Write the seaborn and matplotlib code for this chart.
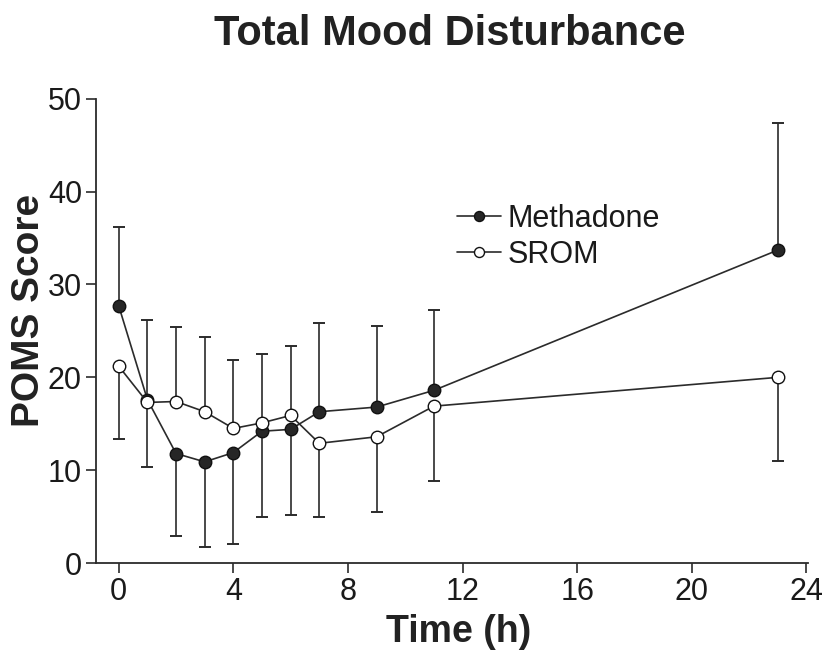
import numpy as np
import pandas as pd
import seaborn as sns
import matplotlib
matplotlib.use("Agg")
import matplotlib.pyplot as plt
from matplotlib import font_manager

# ---- data ----
time_h = [0, 1, 2, 3, 4, 5, 6, 7, 9, 11, 23]
methadone_mean = [27.7, 17.6, 11.8, 10.9, 11.9, 14.2, 14.4, 16.3, 16.8, 18.6, 33.7]
methadone_err = [8.5, 8.6, 8.9, 9.2, 9.8, 9.2, 9.2, 9.6, 8.7, 8.6, 13.7]
srom_mean = [21.2, 17.3, 17.4, 16.3, 14.5, 15.1, 15.9, 12.9, 13.6, 16.9, 20.0]
srom_err = [7.8, 6.9, 8.0, 8.0, 7.4, 7.4, 7.5, 7.9, 8.1, 8.1, 9.0]
x_ticks = [0, 4, 8, 12, 16, 20, 24]
y_ticks = [0, 10, 20, 30, 40, 50]

sns.set_theme(style="ticks")
names = {f.name for f in font_manager.fontManager.ttflist}
base = "Liberation Sans" if "Liberation Sans" in names else "DejaVu Sans"
plt.rcParams["font.family"] = [base, "DejaVu Sans"]

ink = "#2b2b2b"
fig = plt.figure(figsize=(8.26, 6.54), dpi=100)
ax = fig.add_axes([0.116, 0.139, 0.862, 0.71])

df_m = pd.DataFrame({"t": time_h, "v": methadone_mean, "e": methadone_err})
df_s = pd.DataFrame({"t": time_h, "v": srom_mean, "e": srom_err})

# error bars: the higher series gets the upward bar, the lower one the downward bar
m = np.array(methadone_mean); s = np.array(srom_mean)
t = np.array(time_h)
me = np.array(methadone_err); se = np.array(srom_err)
m_up = m >= s
m_end = np.where(m_up, m + me, m - me)
s_end = np.where(m_up, s - se, s + se)
for y0, y1 in [(m, m_end), (s, s_end)]:
    ax.vlines(t, y0, y1, color=ink, lw=1.2, zorder=1)
    ax.plot(t, y1, marker="_", markersize=9, markeredgewidth=1.4,
            linestyle="none", color=ink, zorder=1)

sns.lineplot(data=df_m, x="t", y="v", ax=ax, color=ink, lw=1.2, marker="o",
             markersize=9, markerfacecolor="#262626", markeredgecolor="#111111",
             markeredgewidth=1.0, label="Methadone", zorder=3)
sns.lineplot(data=df_s, x="t", y="v", ax=ax, color=ink, lw=1.2, marker="o",
             markersize=9, markerfacecolor="white", markeredgecolor="#111111",
             markeredgewidth=1.0, label="SROM", zorder=3)

ax.set_xlim(-0.8, 24.05)
ax.set_ylim(0, 50)
ax.set_xticks(x_ticks)
ax.set_yticks(y_ticks)
ax.tick_params(axis="both", direction="out", length=7, width=1.2, colors=ink,
               labelsize=22, pad=3)
for lab in ax.get_xticklabels() + ax.get_yticklabels():
    lab.set_color("#1a1a1a")
sns.despine(ax=ax)
for sp in ["left", "bottom"]:
    ax.spines[sp].set_linewidth(1.3)
    ax.spines[sp].set_color(ink)

ax.set_xlabel("")
ax.set_ylabel("")
fig.text(459 / 826, 1 - 632 / 654, "Time (h)", ha="center", va="center",
         fontsize=27, fontweight="bold", color="#222222")
fig.text(29 / 826, 1 - 310 / 654, "POMS Score", ha="center", va="center",
         rotation=90, fontsize=28, fontweight="bold", color="#222222")
fig.text(450 / 826, 1 - 34 / 654, "Total Mood Disturbance", ha="center", va="center",
         fontsize=30, fontweight="bold", color="#222222")

leg = ax.legend(loc="upper left", bbox_to_anchor=(0.49, 0.80), frameon=False,
                fontsize=22, markerscale=0.8, handlelength=1.45, handletextpad=0.2,
                labelspacing=0.2, borderaxespad=0)
for txt in leg.get_texts():
    txt.set_color("#1a1a1a")

fig.savefig("out.png", dpi=100)
